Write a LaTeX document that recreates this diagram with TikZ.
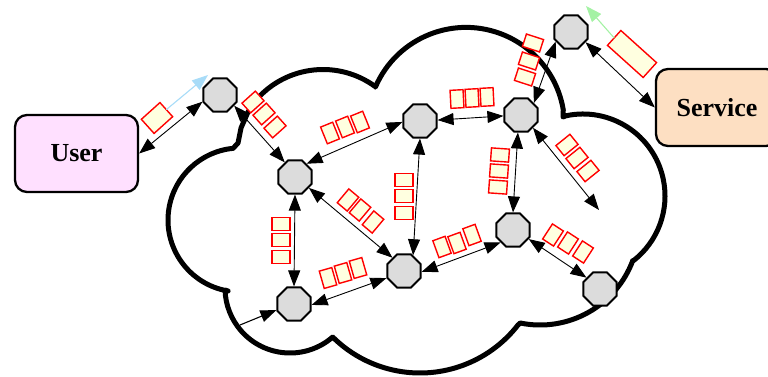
\documentclass[tikz,border=0pt]{standalone}
\usepackage{fontspec}
\setmainfont{Liberation Serif}
\usetikzlibrary{shapes.geometric,arrows.meta,calc}
\definecolor{pkfill}{HTML}{FFFFE0}
\definecolor{userfill}{HTML}{FFE0FF}
\definecolor{svcfill}{HTML}{FDDFC2}
\definecolor{octfill}{HTML}{DCDCDC}
\definecolor{blueflow}{HTML}{A8DCF8}
\definecolor{greenflow}{HTML}{A4F2A4}
\begin{document}
\begin{tikzpicture}[x=1pt,y=-1pt,
  router/.style={regular polygon, regular polygon sides=8, minimum size=36pt, draw=black, line width=1.9pt, fill=octfill, inner sep=0pt},
  pk/.style={draw=red, line width=1.4pt, fill=pkfill, minimum width=13pt, minimum height=18pt, inner sep=0pt, outer sep=0pt},
  endpoint/.style={rounded corners=12pt, draw=black, line width=2.3pt, font=\bfseries\fontsize{26}{30}\selectfont, minimum height=77pt},
  link/.style={line width=0.9pt, {Triangle[length=16pt,width=12pt]}-{Triangle[length=16pt,width=12pt]}},
  flow/.style={line width=1.1pt, -{Triangle[length=16pt,width=12pt]}},
  cloudline/.style={line width=5pt, line join=round}
]
\useasboundingbox (0,0) rectangle (768,377);
\clip (0,0) rectangle (768,377);

% cloud
\draw[cloudline] ($(240,220)+(99.5:72)$) arc[start angle=99.5,end angle=264.5,radius=72]
 -- (238,143) -- (241,128) -- (248,112)
 -- ($(323,158)+(221.8:88.5)$) arc[start angle=221.8,end angle=306.2,radius=88.5]
 -- ($(466,126)+(203.2:98.6)$) arc[start angle=203.2,end angle=350.6,radius=98.6]
 -- (563,117)
 -- ($(583,196)+(258:82)$) arc[start angle=258,end angle=412.4,radius=82]
 -- ($(540,226)+(20.1:99)$) arc[start angle=20.1,end angle=101.5,radius=99]
 -- ($(420,249)+(37.8:124)$) arc[start angle=37.8,end angle=134.7,radius=124]
 -- ($(290,288)+(48.7:65)$) arc[start angle=48.7,end angle=178.2,radius=65]
 -- cycle;

% end systems
\node[endpoint, fill=userfill, minimum width=123pt] (user) at (76.5,153.5) {User};
\node[endpoint, fill=svcfill, minimum width=122pt] (svc) at (717,107.5) {Service};

% routers
\node[router] (A) at (220,95) {};
\node[router] (B) at (295,177) {};
\node[router] (C) at (420,121) {};
\node[router] (D) at (521,115) {};
\node[router] (E) at (571,32) {};
\node[router] (F) at (513,230) {};
\node[router] (G) at (404,271) {};
\node[router] (H) at (294,304) {};
\node[router] (I) at (600,289) {};

\coordinate (X) at (599,210);
\coordinate (in) at (240,325);
\coordinate (bluetip) at (208,75);
\coordinate (greentip) at (586,6);

% links
\draw[link] (user.east) -- (A.201);
\draw[link] (A.-37) -- (B.125);
\draw[link] (B.49) -- (C.183);
\draw[link] (C.3) -- (D.183);
\draw[link] (C.270) -- (G.60);
\draw[link] (D.-100) -- (F.90);
\draw[link] (D.-47) -- (X);
\draw[link] (B.-38) -- (G.131);
\draw[link] (B.270) -- (H.90);
\draw[link] (H.-3) -- (G.202);
\draw[link] (G.-3) -- (F.225);
\draw[link] (F.-30) -- (I.140);
\draw[link] (E.212) -- (D.43);
\draw[link] (E.-35) -- (svc.west);
\draw[flow] (in) -- (H.199);

% packets
\node[pk, minimum width=25pt, minimum height=19pt, rotate=42] (upk) at (157,118) {};
\node[pk, minimum width=48pt, minimum height=20pt, rotate=-42] (spk) at (632,54) {};
\draw[flow, draw=blueflow, fill=blueflow] (upk.east) -- (bluetip);
\draw[flow, draw=greenflow, fill=greenflow] (spk.west) -- (greentip);

\node[pk, rotate=-48] (ab1) at (253,102) {};
\node[pk, rotate=-48] (ab2) at (264,114) {};
\node[pk, rotate=-48] (ab3) at (275,127) {};

\node[pk, rotate=22] (bc1) at (330,133) {};
\node[pk, rotate=22] (bc2) at (345,127) {};
\node[pk, rotate=22] (bc3) at (360,122) {};

\node[pk, rotate=3] (cd1) at (457,99) {};
\node[pk, rotate=3] (cd2) at (472,98) {};
\node[pk, rotate=3] (cd3) at (487,97) {};

\node[pk, rotate=90] (cg1) at (404,180) {};
\node[pk, rotate=90] (cg2) at (404,196) {};
\node[pk, rotate=90] (cg3) at (404,213) {};

\node[pk, rotate=86] (df1) at (500,155) {};
\node[pk, rotate=86] (df2) at (499,171) {};
\node[pk, rotate=86] (df3) at (498,187) {};

\node[pk, rotate=-51] (dx1) at (567,145) {};
\node[pk, rotate=-51] (dx2) at (577,158) {};
\node[pk, rotate=-51] (dx3) at (588,171) {};

\node[pk, rotate=-40] (bg1) at (348,200) {};
\node[pk, rotate=-40] (bg2) at (360,210) {};
\node[pk, rotate=-40] (bg3) at (373,222) {};

\node[pk, rotate=90] (bh1) at (281,224) {};
\node[pk, rotate=90] (bh2) at (281,240) {};
\node[pk, rotate=90] (bh3) at (281,257) {};

\node[pk, rotate=16] (hg1) at (328,278) {};
\node[pk, rotate=16] (hg2) at (343,273) {};
\node[pk, rotate=16] (hg3) at (358,268) {};

\node[pk, rotate=20] (gf1) at (442,247) {};
\node[pk, rotate=20] (gf2) at (457,243) {};
\node[pk, rotate=20] (gf3) at (472,235) {};

\node[pk, rotate=-33] (fi1) at (553,235) {};
\node[pk, rotate=-33] (fi2) at (568,243) {};
\node[pk, rotate=-33] (fi3) at (583,252) {};

\node[pk, rotate=72] (ed1) at (533,43) {};
\node[pk, rotate=72] (ed2) at (529,61) {};
\node[pk, rotate=72] (ed3) at (525,77) {};
\end{tikzpicture}
\end{document}
